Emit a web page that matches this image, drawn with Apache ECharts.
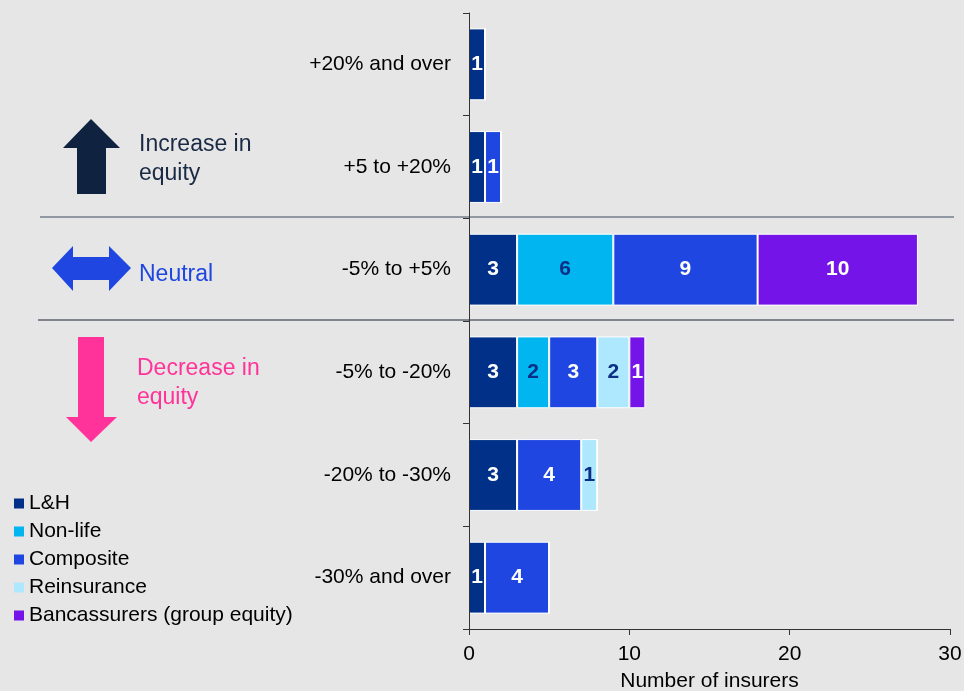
<!DOCTYPE html>
<html>
<head>
<meta charset="utf-8">
<script src="https://cdn.jsdelivr.net/npm/echarts@6/dist/echarts.min.js"></script>
<style>
  html, body { margin: 0; padding: 0; background: #e6e6e6; }
  #chart { width: 964px; height: 691px; }
</style>
</head>
<body>
<div id="chart"></div>
<script>
// categories, top to bottom
var categories = ['+20% and over', '+5 to +20%', '-5% to +5%', '-5% to -20%', '-20% to -30%', '-30% and over']
var seriesNames = ['L&H', 'Non-life', 'Composite', 'Reinsurance', 'Bancassurers (group equity)']
var lh = [1, 1, 3, 3, 3, 1]
var nonLife = [0, 0, 6, 2, 0, 0]
var composite = [0, 1, 9, 3, 4, 4]
var reinsurance = [0, 0, 0, 2, 1, 0]
var bancassurers = [0, 0, 10, 1, 0, 0]
var xTicks = [0, 10, 20, 30]

var colors = ['#003087', '#00b5f0', '#1f46e0', '#aee8ff', '#7414e8']
var labelColors = ['#ffffff', '#0b2f86', '#ffffff', '#0b2f86', '#ffffff']
var values = [lh, nonLife, composite, reinsurance, bancassurers]

var font = '"Liberation Sans", Arial, sans-serif'

var series = values.map(function (vals, i) {
  return {
    name: seriesNames[i],
    type: 'bar',
    stack: 'total',
    barWidth: '70%',
    data: vals,
    itemStyle: { color: colors[i], borderColor: '#ffffff', borderWidth: 1 },
    label: {
      show: true,
      position: 'inside',
      color: labelColors[i],
      fontWeight: 'bold',
      fontSize: 21,
      fontFamily: font,
      formatter: function (p) { return p.value > 0 ? p.value : '' }
    },
    emphasis: { disabled: true }
  }
})

var chart = echarts.init(document.getElementById('chart'))
chart.setOption({
  backgroundColor: '#e6e6e6',
  animation: false,
  color: colors,
  grid: { left: 469, right: 14, top: 13, bottom: 62, containLabel: false, outerBoundsMode: 'none' },
  legend: {
    orient: 'vertical',
    left: 14,
    top: 493,
    padding: 0,
    itemWidth: 10,
    itemHeight: 10,
    itemGap: 7,
    icon: 'rect',
    itemStyle: { borderWidth: 0 },
    textStyle: { fontSize: 21, color: '#000000', fontFamily: font },
    data: seriesNames
  },
  xAxis: {
    type: 'value',
    min: xTicks[0],
    max: xTicks[xTicks.length - 1],
    interval: 10,
    name: 'Number of insurers',
    nameLocation: 'middle',
    nameGap: 42,
    nameTextStyle: { fontSize: 21, color: '#000000', fontFamily: font },
    axisLine: { show: true, lineStyle: { color: '#333333', width: 1 } },
    axisTick: { show: true, length: 6, lineStyle: { color: '#333333' } },
    axisLabel: { fontSize: 21, color: '#000000', fontFamily: font, margin: 15 },
    splitLine: { show: false }
  },
  yAxis: {
    type: 'category',
    inverse: true,
    z: 5,
    data: categories,
    axisLine: { show: true, lineStyle: { color: '#333333', width: 1 } },
    axisTick: { show: true, length: 6, lineStyle: { color: '#333333' } },
    axisLabel: { fontSize: 21, color: '#000000', fontFamily: font, margin: 18 }
  },
  series: series,
  graphic: [
    // separators
    { type: 'line', shape: { x1: 40, y1: 217, x2: 954, y2: 217 }, style: { stroke: '#3e4a5e', lineWidth: 1.2 } },
    { type: 'line', shape: { x1: 38, y1: 320, x2: 954, y2: 320 }, style: { stroke: '#1a2233', lineWidth: 1.2 } },
    // up arrow
    { type: 'polygon', shape: { points: [[91, 119], [120, 148], [106, 148], [106, 194], [77, 194], [77, 148], [63, 148]] }, style: { fill: '#0f2340' } },
    { type: 'text', left: 139, top: 130, style: { text: 'Increase in\nequity', font: '23px ' + font, fill: '#1a2a44', lineHeight: 29 } },
    // double arrow
    { type: 'polygon', shape: { points: [[52, 268], [73, 246], [73, 257], [109, 257], [109, 246], [131, 268], [109, 291], [109, 280], [73, 280], [73, 291]] }, style: { fill: '#1f46e0' } },
    { type: 'text', left: 139, top: 260, style: { text: 'Neutral', font: '23px ' + font, fill: '#1f46e0', lineHeight: 29 } },
    // down arrow
    { type: 'polygon', shape: { points: [[78, 337], [104, 337], [104, 417], [117, 417], [91, 442], [66, 417], [78, 417]] }, style: { fill: '#ff3399' } },
    { type: 'text', left: 137, top: 354, style: { text: 'Decrease in\nequity', font: '23px ' + font, fill: '#ff3399', lineHeight: 29 } }
  ]
})
</script>
</body>
</html>
